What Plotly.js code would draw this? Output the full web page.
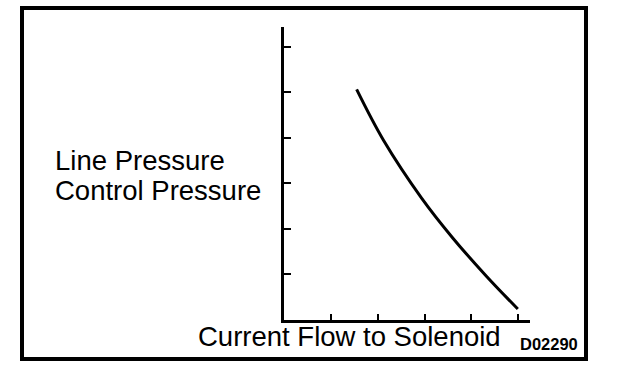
<!DOCTYPE html>
<html>
<head>
<meta charset="utf-8">
<script src="https://cdn.plot.ly/plotly-3.0.1.min.js"></script>
<style>html,body{margin:0;padding:0;background:#fff;}#chart{width:624px;height:372px;}</style>
</head>
<body>
<div id="chart"></div>
<script>
// Current flow to solenoid (relative units, ticks every 1)
const currentFlow = [1.55, 2.12, 2.94, 3.61, 4.33, 4.99];
// Line / control pressure (relative units)
const pressure = [5.06, 3.95, 2.67, 1.79, 0.95, 0.24];
const xTicks = [1, 2, 3, 4, 5];
const yTicks = [1, 2, 3, 4, 5, 6];
const xTitle = "Current Flow to Solenoid";
const yLabelLines = ["Line Pressure", "Control Pressure"];
const figureCode = "D02290";

// pixel helpers for the plot frame
const L = 284, R = 530, T = 27, B = 320;
const px = x => (x - L) / (R - L);
const py = y => (B - y) / (B - T);

const font = {family: "Liberation Sans, Arial, sans-serif", size: 27.5, color: "#000"};

const trace = {
  x: currentFlow, y: pressure, mode: "lines", type: "scatter",
  line: {color: "#000", width: 3, shape: "spline", smoothing: 1},
  hoverinfo: "skip", showlegend: false
};

const layout = {
  width: 624, height: 372,
  margin: {l: L, r: 624 - R, t: T, b: 372 - B, pad: 0},
  paper_bgcolor: "#fff", plot_bgcolor: "#fff",
  showlegend: false,
  xaxis: {range: [0, 5.25], showgrid: false, zeroline: false, showline: true, linecolor: "#000", linewidth: 3,
          ticks: "inside", ticklen: 6, tickwidth: 2, tickcolor: "#000", tickvals: xTicks, showticklabels: false, fixedrange: true},
  yaxis: {range: [0, 6.43], showgrid: false, zeroline: false, showline: true, linecolor: "#000", linewidth: 3,
          ticks: "inside", ticklen: 7, tickwidth: 2, tickcolor: "#000", tickvals: yTicks, showticklabels: false, fixedrange: true},
  shapes: [{type: "rect", xref: "paper", yref: "paper", x0: px(22), x1: px(586), y0: py(359), y1: py(8),
            line: {color: "#000", width: 4}, fillcolor: "rgba(0,0,0,0)", layer: "above"}],
  annotations: [
    {text: yLabelLines[0], xref: "paper", yref: "paper", x: px(53), y: py(160), xanchor: "left", yanchor: "middle", showarrow: false, font: font},
    {text: yLabelLines[1], xref: "paper", yref: "paper", x: px(53), y: py(190), xanchor: "left", yanchor: "middle", showarrow: false, font: font},
    {text: xTitle, xref: "paper", yref: "paper", x: px(503), y: py(336), xanchor: "right", yanchor: "middle", showarrow: false, font: font},
    {text: "<b>" + figureCode + "</b>", xref: "paper", yref: "paper", x: px(580), y: py(344), xanchor: "right", yanchor: "middle", showarrow: false,
     font: {family: "Liberation Sans, Arial, sans-serif", size: 16.5, color: "#000"}}
  ]
};

Plotly.newPlot("chart", [trace], layout, {staticPlot: true, displayModeBar: false});
</script>
</body>
</html>
